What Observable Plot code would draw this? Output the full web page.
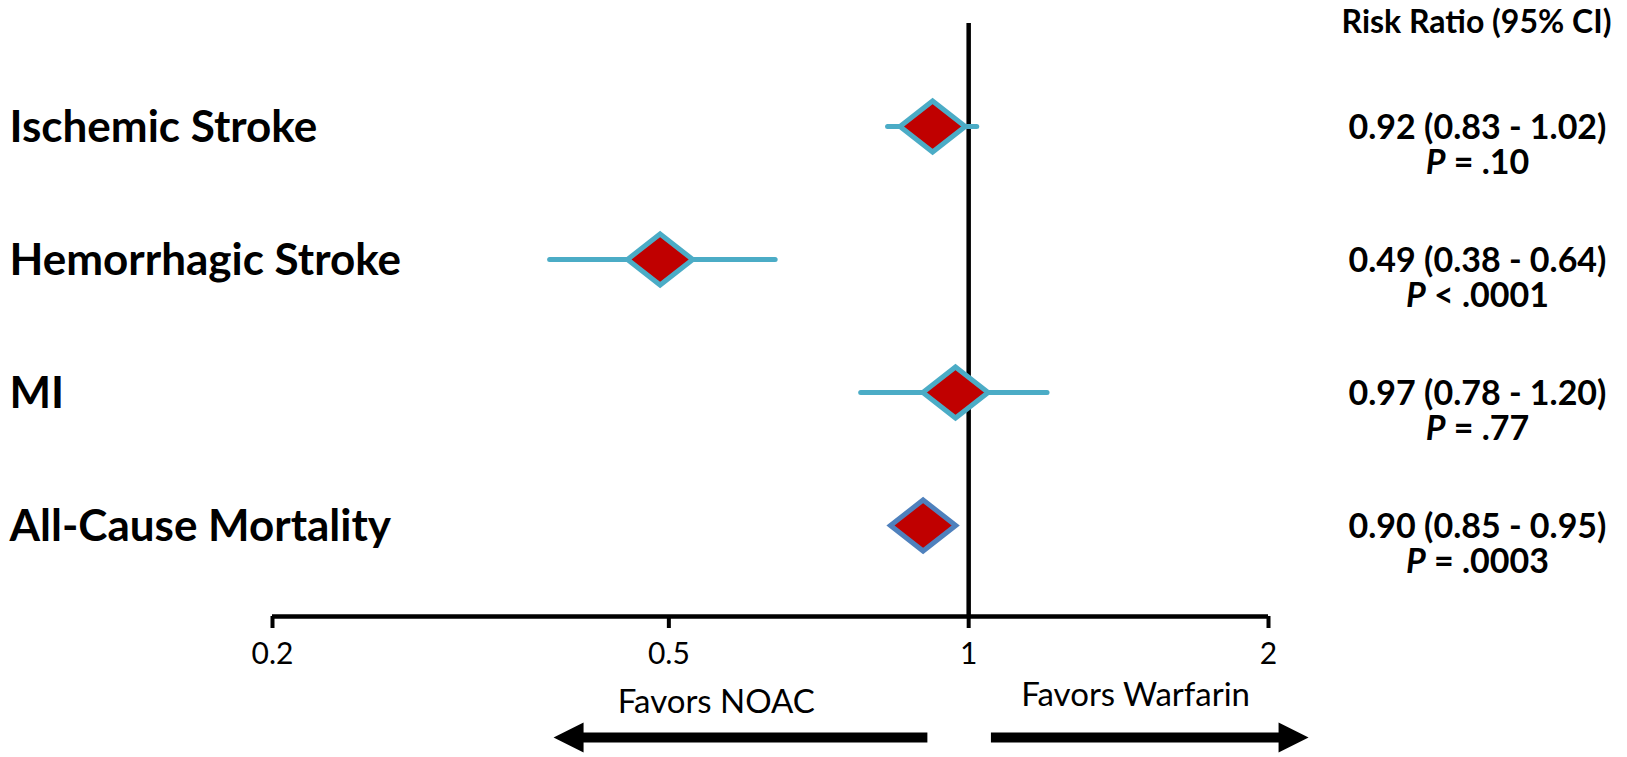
<!DOCTYPE html>
<html><head><meta charset="utf-8">
<script src="https://cdn.jsdelivr.net/npm/d3@7"></script>
<script src="https://cdn.jsdelivr.net/npm/@observablehq/plot@0.6"></script>
<style>html,body{margin:0;padding:0;background:#fff;} svg{display:block}</style>
</head><body><div id="chart"></div>
<script>
// ---- data ----
const outcomes  = ["Ischemic Stroke", "Hemorrhagic Stroke", "MI", "All-Cause Mortality"];
const riskRatio = [0.92, 0.49, 0.97, 0.90];
const ciLow     = [0.83, 0.38, 0.78, 0.85];
const ciHigh    = [1.02, 0.64, 1.20, 0.95];
const pValues   = ["P = .10", "P < .0001", "P = .77", "P = .0003"];
const xTicks    = [0.2, 0.5, 1, 2];
const xDomain   = [0.2, 2];
const headerLabel = "Risk Ratio (95% CI)";
const favorLabels = ["Favors NOAC", "Favors Warfarin"];
const favorX      = [0.558, 1.471];
const arrowTail   = [0.910, 1.054];
const arrowTip    = [0.383, 2.194];

// ---- layout / style ----
const W = 1627, H = 757, MT = 23, MB = 141, ML = 272, MR = 359;
const FRAME_MID = (MT + H - MB) / 2;
const ARROW_Y = 737;
const TEAL = "#4BACC6", MORT = "#4F81BD", RED = "#C00000";
const FONT = "Lato, 'Open Sans', sans-serif";

const rows = outcomes.map((name, i) => ({
  name, rr: riskRatio[i], lo: ciLow[i], hi: ciHigh[i],
  stats: `${riskRatio[i].toFixed(2)} (${ciLow[i].toFixed(2)} - ${ciHigh[i].toFixed(2)})\n${pValues[i]}`
}));
const arrows = arrowTail.map((t, i) => ({tail: t, tip: arrowTip[i]}));

const wideDiamond = {draw(ctx, size) {
  const h = Math.sqrt(size / Math.PI), w = h * 1.28;
  ctx.moveTo(0, -h); ctx.lineTo(w, 0); ctx.lineTo(0, h); ctx.lineTo(-w, 0); ctx.closePath();
}};
const headRight = {draw(ctx, size) {
  const r = Math.sqrt(size / Math.PI);
  ctx.moveTo(0, 0); ctx.lineTo(-2 * r, -r); ctx.lineTo(-2 * r, r); ctx.closePath();
}};
const headLeft = {draw(ctx, size) {
  const r = Math.sqrt(size / Math.PI);
  ctx.moveTo(0, 0); ctx.lineTo(2 * r, -r); ctx.lineTo(2 * r, r); ctx.closePath();
}};

const chart = Plot.plot({
  width: W, height: H,
  marginTop: MT, marginBottom: MB, marginLeft: ML, marginRight: MR,
  style: {fontFamily: FONT, background: "#fff", color: "#000"},
  x: {type: "log", domain: xDomain},
  y: {type: "point", domain: outcomes, range: [125, 525], padding: 0, axis: null},
  marks: [
    // x axis
    Plot.axisX({ticks: xTicks, tickFormat: d => String(d), tickSize: 12, tickPadding: 14,
      strokeWidth: 4, fontSize: 30, fontFamily: FONT}),
    Plot.ruleY([0], {y: null, x1: xDomain[0], x2: xDomain[1], strokeWidth: 4.5,
      dy: (H - MB) - FRAME_MID}),
    // line of no effect
    Plot.ruleX([1], {strokeWidth: 4.5}),
    // CIs
    Plot.ruleY(rows, {y: "name", x1: "lo", x2: "hi", stroke: TEAL, strokeWidth: 5, strokeLinecap: "round"}),
    // point estimates
    Plot.dot(rows, {x: "rr", y: "name", symbol: wideDiamond, r: 25.5, fill: RED,
      stroke: d => d.name === "All-Cause Mortality" ? MORT : TEAL, strokeWidth: 5, strokeLinejoin: "miter"}),
    // outcome labels
    Plot.text(rows, {y: "name", text: "name", frameAnchor: "left", dx: 9 - ML, dy: 1,
      textAnchor: "start", fontSize: 44, fontWeight: "bold", fill: "#000"}),
    // stats column
    Plot.text([headerLabel], {text: d => d, frameAnchor: "top-right", dx: 208, dy: -13,
      lineAnchor: "top", textAnchor: "middle", fontSize: 32, fontWeight: "bold", fill: "#000"}),
    Plot.text(rows, {y: "name", text: "stats", frameAnchor: "right", dx: 209, dy: -12,
      lineAnchor: "top", lineHeight: 35 / 34, textAnchor: "middle", fontSize: 34, fontWeight: "bold", fill: "#000"}),
    // favors labels
    Plot.text([favorLabels[0]], {x: favorX[0], text: d => d, frameAnchor: "bottom", lineAnchor: "middle",
      dy: 86, fontSize: 33, fill: "#000"}),
    Plot.text([favorLabels[1]], {x: favorX[1], text: d => d, frameAnchor: "bottom", lineAnchor: "middle",
      dy: 79, fontSize: 33, fill: "#000"}),
    // arrows
    Plot.ruleY([arrows[0]], {y: null, x1: "tip", x2: "tail", insetLeft: 28, strokeWidth: 10,
      dy: ARROW_Y - FRAME_MID}),
    Plot.ruleY([arrows[1]], {y: null, x1: "tail", x2: "tip", insetRight: 28, strokeWidth: 10,
      dy: ARROW_Y - FRAME_MID}),
    Plot.dot([arrows[0]], {x: "tip", symbol: headLeft, r: 15, fill: "#000", stroke: "none",
      frameAnchor: "bottom", dy: ARROW_Y - (H - MB)}),
    Plot.dot([arrows[1]], {x: "tip", symbol: headRight, r: 15, fill: "#000", stroke: "none",
      frameAnchor: "bottom", dy: ARROW_Y - (H - MB)})
  ]
});

// italicise the "P" in the p-value lines
d3.select(chart).selectAll("tspan, text").each(function() {
  if (this.children && this.children.length) return;
  const t = this.textContent;
  if (/^P [=<]/.test(t)) {
    const sel = d3.select(this);
    sel.text(null);
    sel.append("tspan").attr("font-style", "italic").text("P");
    sel.append("tspan").text(t.slice(1));
  }
});

document.getElementById("chart").appendChild(chart);
</script>
</body></html>
